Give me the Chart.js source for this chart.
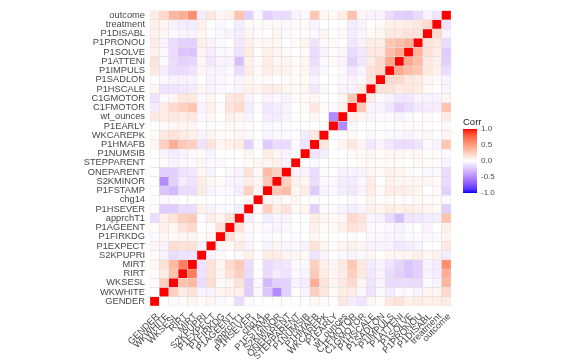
<!DOCTYPE html>
<html>
<head>
<meta charset="utf-8">
<script src="https://cdn.jsdelivr.net/npm/chart.js@4.4.1/dist/chart.umd.min.js"></script>
<style>
  html, body { margin: 0; padding: 0; background: #fff; }
  #wrap { position: relative; width: 581px; height: 363px; }
  #legend { position: absolute; left: 0; top: 0; font-family: "Liberation Sans", Arial, sans-serif; }
  #legend .title { position: absolute; left: 463px; top: 116px; font-size: 9.5px; color: #1a1a1a; }
  #legend .bar { position: absolute; left: 463px; top: 129px; width: 14px; height: 64px; }
  #legend .lab { position: absolute; left: 481px; font-size: 8px; color: #4d4d4d; line-height: 8px; }
</style>
</head>
<body>
<div id="wrap">
  <canvas id="chart" width="581" height="363"></canvas>
  <div id="legend"></div>
</div>
<script>
// variables, in axis order (x left→right, y bottom→top)
const varNames = ['GENDER', 'WKWHITE', 'WKSESL', 'RIRT', 'MIRT', 'S2KPUPRI', 'P1EXPECT', 'P1FIRKDG',
  'P1AGEENT', 'apprchT1', 'P1HSEVER', 'chg14', 'P1FSTAMP', 'S2KMINOR', 'ONEPARENT', 'STEPPARENT',
  'P1NUMSIB', 'P1HMAFB', 'WKCAREPK', 'P1EARLY', 'wt_ounces', 'C1FMOTOR', 'C1GMOTOR', 'P1HSCALE',
  'P1SADLON', 'P1IMPULS', 'P1ATTENI', 'P1SOLVE', 'P1PRONOU', 'P1DISABL', 'treatment', 'outcome'];

// lower triangle of the correlation matrix: corrLower[i][j] for j < i
const corrLower = [
  [],
  [0.0],
  [0.02, 0.25],
  [0.02, 0.1, 0.32],
  [0.05, 0.15, 0.37, 0.65],
  [0.02, -0.05, -0.15, -0.12, -0.12],
  [0.05, -0.05, 0.18, 0.15, 0.15, -0.05],
  [-0.03, 0.05, 0.03, 0.05, 0.05, 0.02, 0.05],
  [0.02, 0.08, 0.05, 0.15, 0.2, 0.0, 0.02, 0.15],
  [-0.15, 0.08, 0.15, 0.25, 0.28, -0.02, 0.1, 0.05, 0.15],
  [0.02, -0.22, -0.22, -0.15, -0.15, 0.08, -0.05, -0.03, -0.02, -0.08],
  [0.0, -0.03, -0.03, 0.0, 0.0, 0.0, 0.0, 0.0, 0.02, 0.0, 0.03],
  [0.0, -0.25, -0.3, -0.15, -0.15, 0.1, -0.05, -0.02, -0.03, -0.08, 0.25, 0.05],
  [0.0, -0.5, -0.2, -0.08, -0.12, 0.1, 0.05, 0.02, -0.05, -0.05, 0.1, 0.05, 0.3],
  [0.0, -0.2, -0.2, -0.12, -0.1, 0.05, -0.05, 0.0, -0.03, -0.05, 0.15, 0.03, 0.35, 0.25],
  [0.0, 0.02, -0.05, -0.03, -0.02, 0.05, -0.03, -0.02, 0.0, 0.0, 0.03, 0.05, 0.05, 0.08, -0.05],
  [0.0, -0.05, -0.08, -0.05, -0.03, 0.03, -0.05, 0.0, 0.0, 0.0, 0.05, 0.0, 0.1, 0.05, -0.05, 0.0],
  [0.05, 0.25, 0.42, 0.28, 0.25, -0.12, 0.15, 0.05, 0.08, 0.1, -0.2, -0.02, -0.22, -0.15, -0.15, -0.03, -0.12],
  [0.02, 0.12, 0.15, 0.1, 0.08, -0.05, 0.05, 0.02, 0.03, 0.05, -0.03, 0.0, -0.05, -0.03, -0.02, 0.0, -0.08, 0.12],
  [0.0, 0.03, 0.05, 0.05, 0.05, 0.0, 0.02, 0.0, 0.03, 0.03, -0.02, 0.0, -0.03, -0.03, 0.0, 0.0, 0.0, 0.0, 0.0],
  [0.12, 0.1, 0.12, 0.1, 0.12, -0.03, 0.05, 0.0, 0.08, 0.05, -0.05, 0.0, -0.08, -0.08, -0.05, 0.0, 0.0, 0.05, 0.0, -0.5],
  [-0.08, 0.1, 0.2, 0.25, 0.3, -0.05, 0.08, 0.02, 0.15, 0.2, -0.08, -0.02, -0.1, -0.08, -0.05, 0.0, 0.02, 0.12, 0.03, -0.03, 0.08],
  [-0.12, -0.03, 0.05, 0.12, 0.12, -0.03, 0.05, 0.0, 0.12, 0.15, -0.05, 0.0, -0.05, -0.03, -0.05, 0.02, 0.02, 0.05, 0.0, 0.0, 0.05, 0.3],
  [0.05, -0.12, -0.12, -0.1, -0.08, 0.05, -0.05, -0.03, -0.03, -0.05, 0.08, 0.05, 0.1, 0.1, 0.05, 0.03, 0.05, -0.1, -0.03, 0.0, -0.05, -0.05, 0.1],
  [0.02, -0.03, -0.05, -0.05, -0.05, 0.0, -0.05, -0.03, -0.02, -0.05, 0.05, 0.02, 0.03, 0.0, 0.03, 0.02, 0.02, -0.05, 0.0, 0.0, -0.02, -0.05, -0.03, 0.15],
  [0.12, -0.08, -0.15, -0.15, -0.12, 0.05, -0.05, -0.05, -0.03, -0.15, 0.1, 0.03, 0.1, 0.08, 0.08, 0.03, 0.05, -0.1, -0.03, 0.0, -0.03, -0.1, -0.05, 0.15, 0.2],
  [0.15, -0.02, -0.15, -0.2, -0.18, 0.05, -0.1, -0.05, -0.05, -0.28, 0.08, 0.02, 0.1, 0.05, 0.05, 0.02, 0.05, -0.15, -0.03, 0.02, -0.05, -0.2, -0.1, 0.1, 0.2, 0.45],
  [0.08, -0.03, -0.15, -0.25, -0.25, 0.05, -0.08, -0.03, -0.03, -0.12, 0.1, 0.02, 0.08, 0.05, 0.03, 0.0, 0.03, -0.15, -0.05, 0.02, -0.03, -0.15, -0.1, 0.12, 0.12, 0.35, 0.45],
  [0.1, -0.05, -0.15, -0.2, -0.2, 0.08, -0.05, -0.02, 0.0, -0.1, 0.08, 0.03, 0.05, 0.05, 0.0, 0.03, 0.05, -0.12, -0.02, 0.03, 0.0, -0.1, -0.05, 0.1, 0.1, 0.3, 0.35, 0.4],
  [0.08, 0.05, -0.02, -0.05, -0.05, 0.05, 0.0, -0.03, -0.05, -0.08, 0.05, 0.02, 0.0, 0.05, -0.03, 0.02, 0.02, -0.03, 0.05, 0.0, 0.03, -0.08, -0.05, 0.03, 0.05, 0.12, 0.12, 0.15, 0.15],
  [0.08, 0.05, -0.05, -0.08, -0.08, 0.08, 0.0, -0.03, 0.0, -0.08, 0.03, 0.02, 0.03, 0.03, -0.03, 0.02, 0.02, -0.05, 0.0, 0.0, 0.0, -0.08, -0.05, 0.0, 0.03, 0.08, 0.08, 0.1, 0.12, 0.2],
  [0.1, 0.2, 0.38, 0.42, 0.58, -0.08, 0.12, 0.05, 0.08, 0.32, -0.2, -0.03, -0.2, -0.15, -0.15, -0.05, -0.03, 0.3, 0.05, 0.03, 0.1, 0.32, 0.05, -0.05, -0.05, -0.15, -0.2, -0.22, -0.15, -0.05, -0.12]
];

// legend breaks
const legendTicks = [1.0, 0.5, 0.0, -0.5, -1.0];

function corr(i, j) {
  if (i === j) return 1;
  return i > j ? corrLower[i][j] : corrLower[j][i];
}

// blue - white - red gradient interpolated in Lab (like scale_fill_gradient2)
function toLab(rgb) {
  const lin = rgb.map(function(v) { v /= 255; return v > 0.04045 ? Math.pow((v + 0.055) / 1.055, 2.4) : v / 12.92; });
  let x = (lin[0] * 0.4124 + lin[1] * 0.3576 + lin[2] * 0.1805) / 0.95047;
  let y = (lin[0] * 0.2126 + lin[1] * 0.7152 + lin[2] * 0.0722);
  let z = (lin[0] * 0.0193 + lin[1] * 0.1192 + lin[2] * 0.9505) / 1.08883;
  const f = function(t) { return t > 0.008856 ? Math.cbrt(t) : 7.787 * t + 16 / 116; };
  x = f(x); y = f(y); z = f(z);
  return [116 * y - 16, 500 * (x - y), 200 * (y - z)];
}
function fromLab(lab) {
  let y = (lab[0] + 16) / 116, x = lab[1] / 500 + y, z = y - lab[2] / 200;
  const g = function(t) { return t * t * t > 0.008856 ? t * t * t : (t - 16 / 116) / 7.787; };
  x = g(x) * 0.95047; y = g(y); z = g(z) * 1.08883;
  const r = x * 3.2406 + y * -1.5372 + z * -0.4986;
  const gg = x * -0.9689 + y * 1.8758 + z * 0.0415;
  const b = x * 0.0557 + y * -0.2040 + z * 1.0570;
  return [r, gg, b].map(function(v) {
    v = v > 0.0031308 ? 1.055 * Math.pow(v, 1 / 2.4) - 0.055 : 12.92 * v;
    return Math.round(Math.max(0, Math.min(1, v)) * 255);
  });
}
const labWhite = toLab([255, 255, 255]);
const labRed = toLab([255, 0, 0]);
const labBlue = toLab([0, 0, 255]);
function fillColor(v) {
  const end = v >= 0 ? labRed : labBlue;
  const t = Math.min(1, Math.abs(v));
  const lab = labWhite.map(function(w, k) { return w + (end[k] - w) * t; });
  const c = fromLab(lab);
  return 'rgb(' + c[0] + ',' + c[1] + ',' + c[2] + ')';
}

// one floating-bar dataset per matrix row
const datasets = varNames.map(function(rowName, r) {
  return {
    label: rowName,
    data: varNames.map(function() { return [r, r + 1]; }),
    backgroundColor: varNames.map(function(_, c) { return fillColor(corr(r, c)); }),
    borderColor: '#dcdcdc',
    borderWidth: 0.5,
    borderSkipped: false,
    grouped: false,
    barPercentage: 1,
    categoryPercentage: 1
  };
});

const axisFont = { family: '"Liberation Sans", Arial, sans-serif', size: 9.3 };

new Chart(document.getElementById('chart'), {
  type: 'bar',
  data: { labels: varNames, datasets: datasets },
  options: {
    responsive: false,
    animation: false,
    events: [],
    layout: { padding: { left: 0, right: 130, top: 5, bottom: 0 } },
    plugins: { legend: { display: false }, tooltip: { enabled: false } },
    scales: {
      x: {
        type: 'category',
        grid: { display: false, drawTicks: false },
        border: { display: false },
        ticks: {
          color: '#474747', font: axisFont, autoSkip: false,
          minRotation: 45, maxRotation: 45, padding: 5, labelOffset: 3
        },
        afterFit: function(scale) { scale.height = 57; }
      },
      y: {
        type: 'linear', min: 0, max: varNames.length,
        grid: { display: false, drawTicks: false },
        border: { display: false },
        afterBuildTicks: function(scale) {
          scale.ticks = varNames.map(function(_, i) { return { value: i + 0.5 }; });
        },
        ticks: {
          color: '#474747', font: axisFont, autoSkip: false, padding: 5,
          callback: function(value) { return varNames[Math.round(value - 0.5)]; }
        },
        afterFit: function(scale) { scale.width = 150; }
      }
    }
  }
});

// colour bar legend
(function() {
  const legend = document.getElementById('legend');
  const stops = [];
  for (let k = 0; k <= 20; k++) {
    const v = 1 - k / 10;
    stops.push(fillColor(v) + ' ' + (k * 5) + '%');
  }
  let html = '<div class="title">Corr</div>' +
    '<div class="bar" style="background:linear-gradient(to bottom,' + stops.join(',') + ')"></div>';
  legendTicks.forEach(function(t) {
    const y = 129 + (1 - t) / 2 * 64;
    html += '<div class="lab" style="top:' + (y - 4) + 'px">' + t.toFixed(1) + '</div>';
  });
  legend.innerHTML = html;
})();
</script>
</body>
</html>
